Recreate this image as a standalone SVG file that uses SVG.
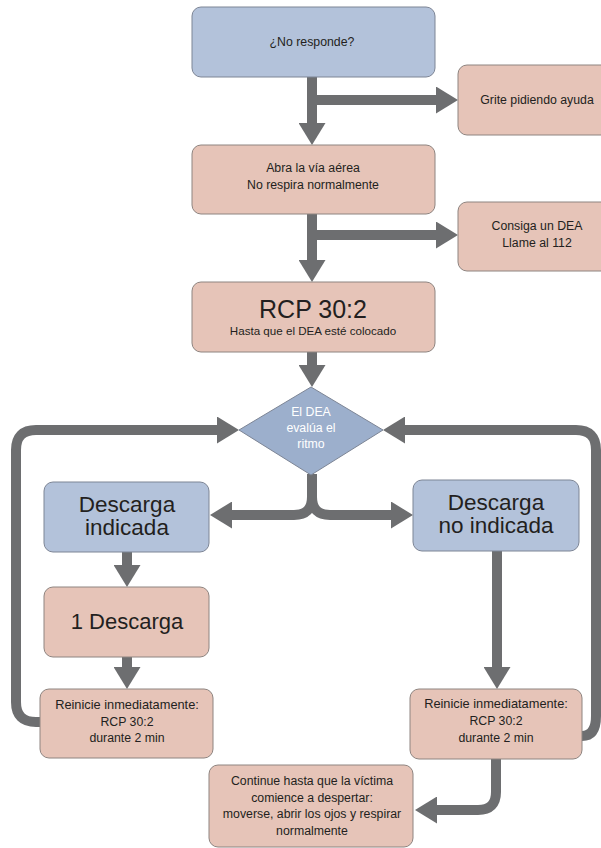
<svg xmlns="http://www.w3.org/2000/svg" width="601" height="848" viewBox="0 0 601 848">
<defs>
<style>
.blue{fill:#b3c2da;stroke:#7d8595;stroke-width:1}
.pink{fill:#e6c4b8;stroke:#8e8480;stroke-width:1}
.dia{fill:#9cafcc;stroke:#7d8595;stroke-width:1;stroke-linejoin:round}
text{font-family:"Liberation Sans",Arial,sans-serif;fill:#231f20;text-anchor:middle}
.s{font-size:12.3px}
.b{font-size:22.5px}
.w{fill:#ffffff;font-size:12.3px}
.c{fill:none;stroke:#6d6e70;stroke-width:10;stroke-linejoin:round}
</style>
<marker id="ah" viewBox="0 0 22 27" markerWidth="22" markerHeight="27" refX="0" refY="13.5" markerUnits="userSpaceOnUse" orient="auto">
<path d="M0,0 L22,13.5 L0,27 Z" fill="#6d6e70"/>
</marker>
</defs>
<rect width="601" height="848" fill="#ffffff"/>
<g id="connectors">
<path class="c" d="M312,77 V123" marker-end="url(#ah)"/>
<path class="c" d="M307,100 H436" marker-end="url(#ah)"/>
<path class="c" d="M312,214 V260" marker-end="url(#ah)"/>
<path class="c" d="M307,235 H436" marker-end="url(#ah)"/>
<path class="c" d="M312,352 V365" marker-end="url(#ah)"/>
<path class="c" d="M312,474 V497 Q312,515 294,515 H232" marker-end="url(#ah)"/>
<path class="c" d="M312,474 V497 Q312,515 330,515 H391" marker-end="url(#ah)"/>
<path class="c" d="M127,552 V565" marker-end="url(#ah)"/>
<path class="c" d="M127,657 V667" marker-end="url(#ah)"/>
<path class="c" d="M497,551 V667" marker-end="url(#ah)"/>
<path class="c" d="M41,722 H36 Q16,722 16,702 V450 Q16,430 36,430 H217" marker-end="url(#ah)"/>
<path class="c" d="M582,736 Q596,736 596,716 V450 Q596,430 576,430 H405" marker-end="url(#ah)"/>
<path class="c" d="M496,759 V792 Q496,810 478,810 H437" marker-end="url(#ah)"/>
</g>
<g id="n1"><rect class="blue" x="192" y="7" width="243" height="70" rx="9"/><text class="s" x="312" y="46">¿No responde?</text></g>
<g id="n2"><rect class="pink" x="458" y="65" width="160" height="70" rx="9"/><text class="s" x="537" y="104">Grite pidiendo ayuda</text></g>
<g id="n3"><rect class="pink" x="192" y="145" width="243" height="69" rx="9"/><text class="s" x="313" y="172">Abra la vía aérea</text><text class="s" x="313" y="189">No respira normalmente</text></g>
<g id="n4"><rect class="pink" x="458" y="202" width="160" height="69" rx="9"/><text class="s" x="537" y="230">Consiga un DEA</text><text class="s" x="537" y="247">Llame al 112</text></g>
<g id="n5"><rect class="pink" x="192" y="282" width="243" height="70" rx="9"/><text x="313" y="318" style="font-size:25px">RCP 30:2</text><text x="313" y="335" style="font-size:11.6px">Hasta que el DEA esté colocado</text></g>
<g id="n6"><path class="dia" d="M311,387 L383,430 L311,475 L239,430 Z"/><text class="w" x="311" y="416">El DEA</text><text class="w" x="311" y="432">evalúa el</text><text class="w" x="311" y="448">ritmo</text></g>
<g id="n7"><rect class="blue" x="44" y="482" width="165" height="70" rx="9"/><text class="b" x="127" y="512">Descarga</text><text class="b" x="127" y="535">indicada</text></g>
<g id="n8"><rect class="blue" x="413" y="480" width="166" height="71" rx="9"/><text class="b" x="496" y="510">Descarga</text><text class="b" x="496" y="533">no indicada</text></g>
<g id="n9"><rect class="pink" x="44" y="587" width="165" height="70" rx="9"/><text x="127" y="629" style="font-size:22px">1 Descarga</text></g>
<g id="n10"><rect class="pink" x="40" y="689" width="173" height="69" rx="9"/><text class="s" x="127" y="709" style="font-size:12.8px">Reinicie inmediatamente:</text><text class="s" x="127" y="726">RCP 30:2</text><text class="s" x="127" y="742">durante 2 min</text></g>
<g id="n11"><rect class="pink" x="410" y="689" width="172" height="70" rx="9"/><text class="s" x="496" y="708" style="font-size:12.8px">Reinicie inmediatamente:</text><text class="s" x="496" y="725">RCP 30:2</text><text class="s" x="496" y="742">durante 2 min</text></g>
<g id="n12"><rect class="pink" x="209" y="765" width="204" height="82" rx="9"/><text class="s" x="312" y="785">Continue hasta que la víctima</text><text class="s" x="312" y="802">comience a despertar:</text><text class="s" x="312" y="818">moverse, abrir los ojos y respirar</text><text class="s" x="312" y="835">normalmente</text></g>
</svg>
